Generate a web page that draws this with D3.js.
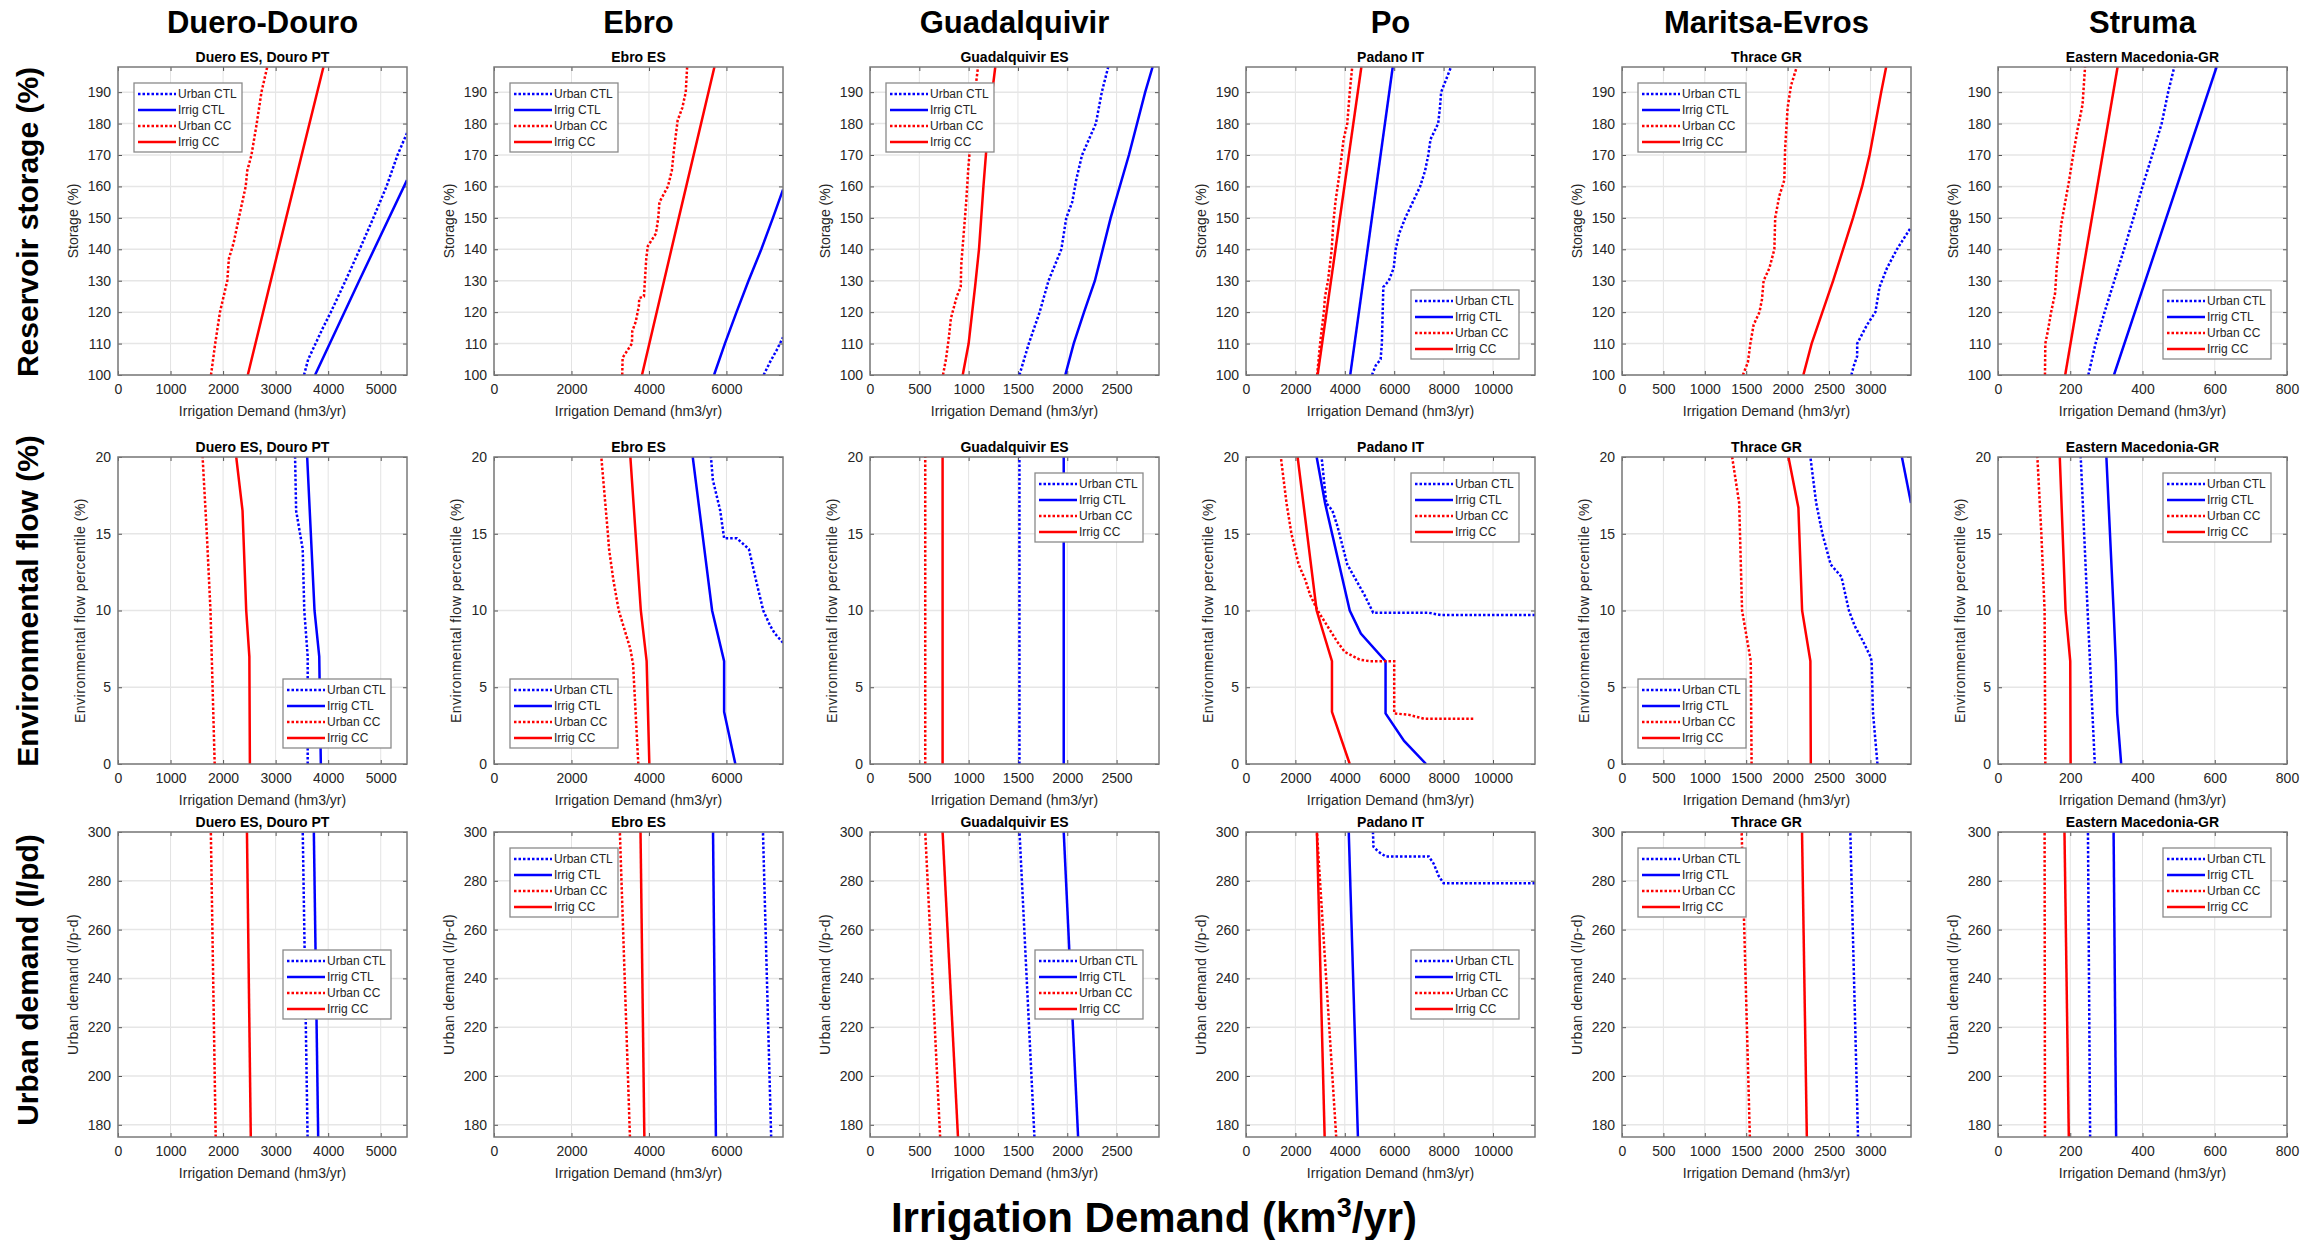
<!DOCTYPE html>
<html>
<head>
<meta charset="utf-8">
<script src="https://cdn.jsdelivr.net/npm/d3@7"></script>
<style>
  body { margin: 0; background: #fff; }
  svg { display: block; font-family: "Liberation Sans", Arial, sans-serif; }
</style>
</head>
<body>
<svg id="chart"></svg>
<script>
// basins (columns)
const columnNames = ["Duero-Douro", "Ebro", "Guadalquivir", "Po", "Maritsa-Evros", "Struma"];
const basinTitles = ["Duero ES, Douro PT", "Ebro ES", "Guadalquivir ES", "Padano IT", "Thrace GR", "Eastern Macedonia-GR"];
const xMax = [5500, 7460, 2930, 11700, 3490, 800];
const xTickStep = [1000, 2000, 500, 2000, 500, 200];
const seriesNames = ["Urban CTL", "Irrig CTL", "Urban CC", "Irrig CC"];

// row 1: reservoir storage, points are [storage %, irrigation demand hm3/yr]
const storageTicks = [100, 110, 120, 130, 140, 150, 160, 170, 180, 190];
const storageUrbanCTL = [
  [[100,3540],[105,3620],[110,3760],[115,3900],[120,4050],[130,4330],[140,4600],[150,4860],[160,5110],[170,5320],[177,5500]],
  [[100,6960],[104,7120],[108,7300],[112,7460]],
  [[100,1515],[110,1610],[120,1720],[130,1810],[140,1940],[150,1990],[155,2050],[162,2090],[170,2150],[180,2290],[190,2350],[198,2415]],
  [[100,5100],[103,5250],[105,5450],[110,5500],[128,5560],[130,5780],[134,5980],[140,6060],[145,6200],[150,6450],[155,6750],[160,7050],[165,7250],[170,7380],[175,7470],[180,7780],[185,7850],[190,7900],[198,8300]],
  [[100,2770],[103,2800],[106,2840],[110,2840],[113,2900],[116,2960],[120,3060],[128,3110],[134,3200],[140,3320],[147,3490]],
  [[100,250],[110,270],[120,295],[130,322],[140,349],[150,375],[160,400],[170,427],[180,453],[190,471],[198,488]]
];
const storageIrrigCTL = [
  [[100,3750],[130,4590],[162,5500]],
  [[100,5680],[110,5960],[120,6260],[130,6570],[140,6900],[150,7200],[159,7460]],
  [[100,1980],[110,2065],[120,2170],[130,2280],[150,2440],[170,2625],[190,2790],[198,2865]],
  [[100,4220],[198,5940]],
  [],
  [[100,321],[198,605]]
];
const storageUrbanCC = [
  [[100,1770],[110,1850],[120,1940],[125,2010],[130,2080],[137,2110],[142,2200],[150,2300],[160,2430],[165,2460],[170,2540],[180,2640],[190,2730],[198,2840]],
  [[100,3310],[105.5,3320],[110,3560],[114,3570],[117,3660],[122,3740],[124.5,3750],[125,3870],[137,3930],[141,3970],[145,4180],[150,4240],[155,4270],[160,4490],[165,4590],[171,4640],[175,4680],[181,4740],[185,4860],[190,4950],[198,4985]],
  [[100,740],[105,770],[112,800],[118,820],[125,880],[128,920],[135,925],[145,950],[155,975],[165,995],[175,1020],[185,1045],[198,1095]],
  [[100,2880],[110,3000],[120,3150],[125,3200],[130,3320],[140,3470],[148,3530],[155,3620],[165,3800],[175,3950],[180,4100],[190,4200],[198,4300]],
  [[100,1460],[104,1520],[110,1550],[116,1590],[120,1660],[124,1690],[130,1710],[134,1780],[140,1840],[150,1850],[157,1900],[162,1960],[172,1970],[185,2000],[192,2040],[198,2110]],
  [[100,130],[110,131],[114,138],[120,147],[126,158],[135,163],[142,170],[148,175],[155,186],[162,197],[170,208],[178,220],[186,234],[198,241]]
];
const storageIrrigCC = [
  [[100,2470],[150,3200],[198,3910]],
  [[100,3820],[150,4770],[198,5690]],
  [[100,940],[110,1000],[128,1065],[140,1105],[160,1150],[180,1200],[198,1270]],
  [[100,2900],[198,4670]],
  [[100,2190],[110,2290],[120,2420],[130,2550],[140,2670],[150,2790],[160,2900],[170,2990],[180,3060],[190,3130],[198,3190]],
  [[100,186],[198,331]]
];

// row 2: environmental flow percentile
const flowTicks = [0, 5, 10, 15, 20];
const flowUrbanCTL = [
  [[0,3610],[7,3610],[10,3545],[14,3515],[16.5,3390],[20,3370]],
  [[7.9,7460],[8.5,7250],[9,7130],[10,6950],[12,6760],[14,6580],[14.7,6270],[14.7,5940],[16.5,5840],[18.5,5650],[20,5600]],
  [[0,1515],[20,1515]],
  [[9.7,11700],[9.7,7900],[9.85,7400],[9.85,5150],[11,4800],[13,4100],[15.5,3700],[16.5,3500],[17,3250],[20,3060]],
  [[0,3085],[3.4,3030],[6.7,3015],[7,3000],[8,2910],[9,2810],[10,2740],[12.2,2650],[13,2520],[15,2420],[17,2345],[20,2275]],
  [[0,268],[10,248],[20,229]]
];
const flowIrrigCTL = [
  [[0,3860],[7,3830],[10,3740],[20,3600]],
  [[0,6230],[3.4,5940],[6.7,5940],[10,5630],[20,5130]],
  [[0,1964],[20,1964]],
  [[0,7290],[1.5,6400],[3.3,5650],[6.7,5650],[8.5,4650],[10,4200],[17,3200],[20,2860]],
  [[17,3490],[20,3380]],
  [[0,341],[3.3,330],[6.7,326],[10,320],[20,300]]
];
const flowUrbanCC = [
  [[0,1840],[5,1800],[10,1760],[15,1690],[20,1610]],
  [[0,3725],[6.5,3590],[7.5,3520],[8.5,3400],[10,3220],[12,3080],[14,2970],[15,2940],[20,2770]],
  [[0,560],[20,560]],
  [[2.95,9200],[2.95,7200],[3.2,6600],[3.3,6000],[6.7,6000],[6.7,5000],[6.8,4600],[7.3,4000],[8,3680],[9,3290],[10,2900],[11,2600],[12,2400],[13,2130],[15,1840],[17,1640],[20,1410]],
  [[0,1565],[6.7,1555],[7.5,1530],[10,1450],[17,1415],[20,1330]],
  [[0,131],[10,129],[15,120],[20,109]]
];
const flowIrrigCC = [
  [[0,2510],[7,2500],[10,2440],[16.5,2370],[20,2250]],
  [[0,4010],[6.7,3940],[10,3790],[20,3520]],
  [[0,736],[20,736]],
  [[0,4200],[3.4,3480],[6.7,3480],[10,2860],[20,2090]],
  [[0,2280],[6.7,2275],[10,2175],[16.7,2130],[20,2010]],
  [[0,201],[6.7,200],[10,187],[20,171]]
];

// row 3: urban demand l/p-d
const urbanTicks = [180, 200, 220, 240, 260, 280, 300];
const urbanUrbanCTL = [
  [[175,3608],[300,3516]],
  [[175,7154],[300,6943]],
  [[175,1667],[300,1516]],
  [[279,11700],[279,8000],[282,7800],[287,7600],[290,7400],[290,5650],[292,5350],[294,5160],[300,5140]],
  [[175,2850],[300,2757]],
  [[175,255],[300,249]]
];
const urbanIrrigCTL = [
  [[175,3810],[300,3727]],
  [[175,5728],[300,5654]],
  [[175,2110],[300,1964]],
  [[175,4531],[300,4160]],
  [],
  [[175,327],[300,320]]
];
const urbanUrbanCC = [
  [[175,1859],[300,1767]],
  [[175,3509],[300,3249]],
  [[175,711],[300,560]],
  [[175,3652],[300,2871]],
  [[175,1544],[300,1445]],
  [[175,130],[300,129]]
];
const urbanIrrigCC = [
  [[175,2527],[300,2454]],
  [[175,3881],[300,3782]],
  [[175,892],[300,736]],
  [[175,3184],[300,2871]],
  [[175,2232],[300,2174]],
  [[175,196],[300,184]]
];

const rows = [
  { label: "Reservoir storage (%)", ylabel: "Storage (%)", domain: [100, 198], ticks: storageTicks,
    series: [storageUrbanCTL, storageIrrigCTL, storageUrbanCC, storageIrrigCC],
    legend: ["nw", "nw", "nw", "se", "nw", "se"], top: 67, h: 308, labelY: 222, ylabOff: -40, ylabSpacing: 0 },
  { label: "Environmental flow (%)", ylabel: "Environmental flow percentile (%)", domain: [0, 20], ticks: flowTicks,
    series: [flowUrbanCTL, flowIrrigCTL, flowUrbanCC, flowIrrigCC],
    legend: ["se", "sw", "ne", "ne", "sw", "ne"], top: 457, h: 307, labelY: 601, ylabOff: -33, ylabSpacing: 0.5 },
  { label: "Urban demand (l/pd)", ylabel: "Urban demand (l/p-d)", domain: [175, 300], ticks: urbanTicks,
    series: [urbanUrbanCTL, urbanIrrigCTL, urbanUrbanCC, urbanIrrigCC],
    legend: ["e", "nw", "e", "e", "nw", "ne"], top: 832, h: 305, labelY: 980, ylabOff: -40, ylabSpacing: 0.4 }
];

const styles = [
  { color: "#0000ff", dash: "2.5,2" },
  { color: "#0000ff", dash: null },
  { color: "#ff0000", dash: "2.5,2" },
  { color: "#ff0000", dash: null }
];

const W = 2321, H = 1240;
const pw = 289;
const colLeft = c => 118 + c * 376;

const svg = d3.select("#chart").attr("width", W).attr("height", H);
svg.append("rect").attr("width", W).attr("height", H).attr("fill", "#fff");

// column headers
svg.selectAll(".colhead").data(columnNames).join("text")
  .attr("x", (d, i) => colLeft(i) + pw / 2)
  .attr("y", 33)
  .attr("text-anchor", "middle")
  .style("font-size", "31px").style("font-weight", "bold")
  .text(d => d);

function drawLegend(g, loc, ph) {
  const lw = 108, lh = 69, inset = 16;
  const lx = loc.includes("w") ? inset : pw - inset - lw;
  const ly = loc.includes("n") ? inset : loc.includes("s") ? ph - inset - lh : (ph - lh) / 2;
  const lg = g.append("g").attr("transform", `translate(${lx},${ly})`);
  lg.append("rect").attr("width", lw).attr("height", lh)
    .attr("fill", "#fff").attr("stroke", "#8a8a8a").attr("stroke-width", 1.3);
  seriesNames.forEach((name, i) => {
    const yy = 11 + i * 16;
    lg.append("line").attr("x1", 4).attr("x2", 42).attr("y1", yy).attr("y2", yy)
      .attr("stroke", styles[i].color).attr("stroke-width", 2.5)
      .attr("stroke-dasharray", styles[i].dash);
    lg.append("text").attr("x", 44).attr("y", yy).attr("dy", "0.35em")
      .style("font-size", "12px").attr("fill", "#262626").text(name);
  });
}

rows.forEach((row, r) => {
  // big row label
  svg.append("text")
    .attr("transform", `translate(38,${row.labelY}) rotate(-90)`)
    .attr("text-anchor", "middle")
    .style("font-size", "30px").style("font-weight", "bold")
    .text(row.label);

  basinTitles.forEach((title, c) => {
    const ph = row.h;
    const x = d3.scaleLinear().domain([0, xMax[c]]).range([0, pw]);
    const y = d3.scaleLinear().domain(row.domain).range([ph, 0]);
    const xt = d3.range(0, xMax[c] + 1, xTickStep[c]);
    const g = svg.append("g").attr("transform", `translate(${colLeft(c)},${row.top})`);

    // grid
    g.append("g").selectAll("line").data(xt).join("line")
      .attr("x1", d => x(d)).attr("x2", d => x(d)).attr("y1", 0).attr("y2", ph)
      .attr("stroke", "#e3e3e3").attr("stroke-width", 1);
    g.append("g").selectAll("line").data(row.ticks).join("line")
      .attr("x1", 0).attr("x2", pw).attr("y1", d => y(d)).attr("y2", d => y(d))
      .attr("stroke", "#e6e6e6").attr("stroke-width", 1.5);

    // axes
    const fmt = d3.format("d");
    const ax = g.append("g").attr("transform", `translate(0,${ph})`)
      .call(d3.axisBottom(x).tickValues(xt).tickFormat(fmt).tickSize(-4).tickPadding(9).tickSizeOuter(0));
    g.append("g").call(d3.axisTop(x).tickValues(xt).tickFormat("").tickSize(-4).tickSizeOuter(0));
    const ay = g.append("g")
      .call(d3.axisLeft(y).tickValues(row.ticks).tickFormat(fmt).tickSize(-4).tickPadding(7).tickSizeOuter(0));
    g.append("g").attr("transform", `translate(${pw},0)`)
      .call(d3.axisRight(y).tickValues(row.ticks).tickFormat("").tickSize(-4).tickSizeOuter(0));
    g.selectAll(".domain").remove();
    g.selectAll(".tick line").attr("stroke", "#555");
    [ax, ay].forEach(a => a.selectAll("text").style("font-size", "14px").attr("fill", "#262626"));

    // lines
    g.append("clipPath").attr("id", `clip-${r}-${c}`)
      .append("rect").attr("width", pw).attr("height", ph);
    const line = d3.line().x(d => x(d[1])).y(d => y(d[0]));
    row.series.forEach((s, k) => {
      const pts = s[c];
      if (!pts.length) return;
      g.append("path").datum(pts)
        .attr("clip-path", `url(#clip-${r}-${c})`)
        .attr("d", line)
        .attr("fill", "none")
        .attr("stroke", styles[k].color)
        .attr("stroke-width", 2.5)
        .attr("stroke-dasharray", styles[k].dash);
    });

    // box
    g.append("rect").attr("width", pw).attr("height", ph)
      .attr("fill", "none").attr("stroke", "#7a7a7a").attr("stroke-width", 1.5);

    // title and labels
    g.append("text").attr("x", pw / 2).attr("y", -5).attr("text-anchor", "middle")
      .style("font-size", "14px").style("font-weight", "bold").text(title);
    g.append("text").attr("x", pw / 2).attr("y", ph + 41).attr("text-anchor", "middle")
      .style("font-size", "14px").attr("fill", "#262626").text("Irrigation Demand (hm3/yr)");
    g.append("text")
      .attr("transform", `translate(${row.ylabOff},${ph / 2}) rotate(-90)`)
      .attr("text-anchor", "middle")
      .style("font-size", "14px").style("letter-spacing", row.ylabSpacing + "px")
      .attr("fill", "#262626").text(row.ylabel);

    drawLegend(g, row.legend[c], ph);
  });
});

// bottom title
const bt = svg.append("text").attr("x", 1154).attr("y", 1232).attr("text-anchor", "middle")
  .style("font-size", "42px").style("font-weight", "bold");
bt.append("tspan").text("Irrigation Demand (km");
bt.append("tspan").attr("baseline-shift", "super").style("font-size", "27px").text("3");
bt.append("tspan").text("/yr)");
</script>
</body>
</html>
